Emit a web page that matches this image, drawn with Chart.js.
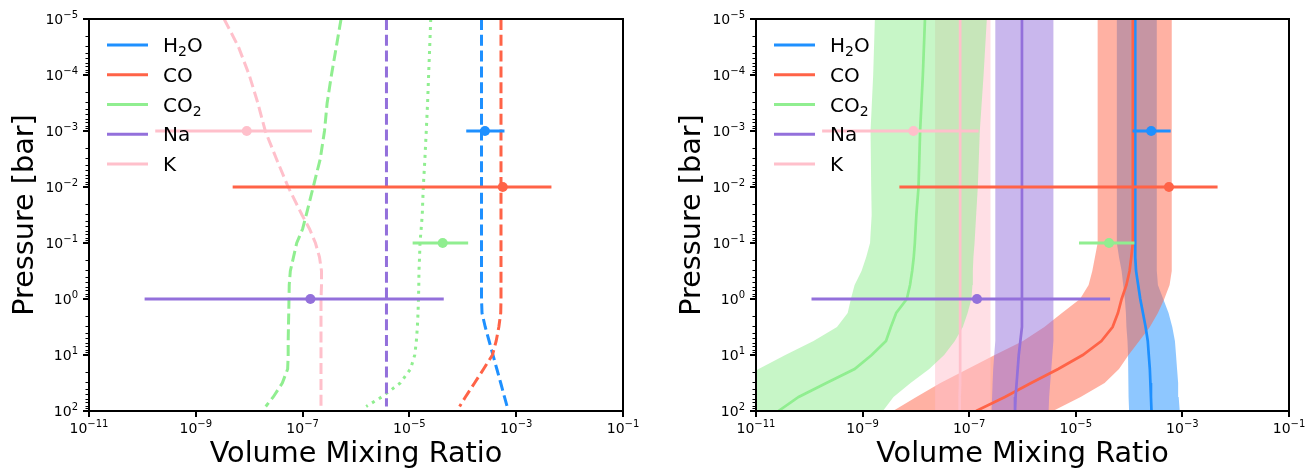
<!DOCTYPE html>
<html>
<head>
<meta charset="utf-8">
<title>Volume mixing ratio profiles</title>
<script src="https://cdn.jsdelivr.net/npm/chart.js@4.4.0/dist/chart.umd.min.js"></script>
<style>
  html, body { margin: 0; padding: 0; background: #fff; }
  #wrap { position: relative; width: 1306px; height: 470px; overflow: hidden; }
  canvas { position: absolute; top: 0; }
  #model { left: 0; }
  #retrieval { left: 653px; }
</style>
</head>
<body>
<div id="wrap">
  <canvas id="model" width="653" height="470"></canvas>
  <canvas id="retrieval" width="653" height="470"></canvas>
</div>
<script>
// ---- species ----
const SPECIES = ['H\u2082O', 'CO', 'CO\u2082', 'Na', 'K'];
const COLORS  = ['#1E90FF', '#FF6347', '#90EE90', '#9370DB', '#FFC0CB'];

// ---- axis ticks ----
const X_TICKS = [1e-11, 1e-9, 1e-7, 1e-5, 1e-3, 1e-1];
const Y_TICKS = [1e-5, 1e-4, 1e-3, 1e-2, 1e-1, 1, 10, 100];

// ---- forward-model profiles (left panel), pressure in bar ----
const P_MODEL = [1e-5, 3.16e-5, 1e-4, 3.16e-4, 1e-3, 3.16e-3, 1e-2, 3.16e-2, 5.62e-2, 0.1, 0.178,
                 0.316, 0.562, 1, 1.78, 3.16, 5.62, 10, 17.8, 31.6, 56.2, 83];
const H2O_MODEL = [2.24e-4, 2.24e-4, 2.24e-4, 2.24e-4, 2.24e-4, 2.24e-4, 2.24e-4, 2.24e-4, 2.24e-4,
                   2.24e-4, 2.24e-4, 2.24e-4, 2.24e-4, 2.24e-4,
                   2.29e-4, 2.63e-4, 3.11e-4, 3.67e-4, 4.34e-4, 5.13e-4, 6.03e-4, 6.76e-4];
const CO_MODEL  = [5.19e-4, 5.19e-4, 5.19e-4, 5.19e-4, 5.19e-4, 5.19e-4, 5.19e-4, 5.19e-4, 5.19e-4,
                   5.19e-4, 5.19e-4, 5.19e-4, 5.19e-4, 5.19e-4,
                   5.13e-4, 4.73e-4, 4.22e-4, 3.59e-4, 2.45e-4, 1.66e-4, 1.12e-4, 8.71e-5];
const CO2_MODEL = [5.25e-7, 4.27e-7, 3.47e-7, 2.88e-7, 2.57e-7, 2.14e-7, 1.58e-7, 1.17e-7, 1.00e-7,
                   7.76e-8, 6.76e-8, 5.89e-8, 5.62e-8, 5.56e-8,
                   5.50e-8, 5.43e-8, 5.37e-8, 5.37e-8, 5.25e-8, 4.17e-8, 2.82e-8, 2.04e-8];
const CO2_ALT_MODEL = [2.51e-5, 2.40e-5, 2.29e-5, 2.19e-5, 2.07e-5, 1.95e-5, 1.82e-5, 1.74e-5, 1.66e-5,
                       1.58e-5, 1.55e-5, 1.51e-5, 1.50e-5, 1.48e-5,
                       1.45e-5, 1.41e-5, 1.35e-5, 1.26e-5, 1.05e-5, 6.76e-6, 3.02e-6, 1.55e-6];
const NA_MODEL  = [3.72e-6, 3.72e-6, 3.72e-6, 3.72e-6, 3.72e-6, 3.72e-6, 3.72e-6, 3.72e-6, 3.72e-6,
                   3.72e-6, 3.72e-6, 3.72e-6, 3.72e-6, 3.72e-6,
                   3.72e-6, 3.72e-6, 3.72e-6, 3.72e-6, 3.72e-6, 3.72e-6, 3.72e-6, 3.72e-6];
const K_MODEL   = [3.39e-9, 6.31e-9, 1.00e-8, 1.45e-8, 2.00e-8, 3.24e-8, 5.37e-8, 9.77e-8, 1.35e-7,
                   1.74e-7, 2.07e-7, 2.26e-7, 2.26e-7, 2.21e-7,
                   2.21e-7, 2.21e-7, 2.21e-7, 2.21e-7, 2.21e-7, 2.21e-7, 2.21e-7, 2.21e-7];

// ---- retrieved profiles (right panel): median and credible band ----
const P_RETR = [1e-5, 1e-4, 1e-3, 1e-2, 0.0316, 0.1, 0.178, 0.316, 0.562,
                1, 1.78, 3.16, 5.62, 10, 17.8, 31.6, 56.2, 100];

const H2O_MED = [1.30e-4, 1.30e-4, 1.30e-4, 1.30e-4, 1.30e-4, 1.30e-4, 1.32e-4, 1.35e-4, 1.48e-4,
                 1.62e-4, 1.82e-4, 2.04e-4, 2.24e-4, 2.34e-4, 2.45e-4, 2.51e-4, 2.57e-4, 2.63e-4];
const H2O_LO  = [5.89e-5, 5.89e-5, 5.89e-5, 5.89e-5, 5.89e-5, 5.89e-5, 6.46e-5, 7.24e-5, 7.76e-5,
                 8.32e-5, 8.71e-5, 8.91e-5, 9.33e-5, 9.55e-5, 9.66e-5, 9.77e-5, 9.89e-5, 1.00e-4];
const H2O_HI  = [3.31e-4, 3.31e-4, 3.31e-4, 3.31e-4, 3.31e-4, 3.31e-4, 3.31e-4, 3.31e-4, 3.47e-4,
                 4.37e-4, 5.50e-4, 6.46e-4, 7.24e-4, 7.59e-4, 7.94e-4, 8.32e-4, 8.51e-4, 8.91e-4];

const CO_MED = [1.175e-4, 1.175e-4, 1.175e-4, 1.175e-4, 1.175e-4, 1.175e-4, 1.10e-4, 1.02e-4, 8.91e-5,
                7.24e-5, 6.17e-5, 4.90e-5, 3.02e-5, 1.35e-5, 4.68e-6, 1.45e-6, 4.68e-7, 1.35e-7];
const CO_LO  = [2.57e-5, 2.57e-5, 2.57e-5, 2.57e-5, 2.57e-5, 2.57e-5, 2.29e-5, 2.04e-5, 1.74e-5,
                1.20e-5, 5.50e-6, 2.57e-6, 1.02e-6, 3.02e-7, 9.33e-8, 2.88e-8, 1.02e-8, 3.72e-9];
const CO_HI  = [6.31e-4, 6.31e-4, 6.31e-4, 6.31e-4, 6.31e-4, 6.31e-4, 6.31e-4, 6.31e-4, 5.75e-4,
                4.57e-4, 3.47e-4, 2.45e-4, 1.55e-4, 9.77e-5, 6.46e-5, 3.47e-5, 1.23e-5, 3.72e-6];

const CO2_MED = [1.48e-8, 1.35e-8, 1.20e-8, 1.12e-8, 1.02e-8, 9.55e-9, 9.12e-9, 8.51e-9, 7.76e-9,
                 6.76e-9, 4.27e-9, 3.39e-9, 2.75e-9, 1.48e-9, 7.08e-10, 2.09e-10, 6.31e-11, 2.63e-11];
const CO2_LO  = [1.70e-9, 1.58e-9, 1.41e-9, 1.45e-9, 1.48e-9, 1.38e-9, 1.17e-9, 9.55e-10, 7.08e-10,
                 6.03e-10, 5.25e-10, 3.31e-10, 1.20e-10, 3.55e-11, 1.12e-11, 3.55e-12, 1.26e-12, 5.01e-13];
const CO2_HI  = [2.14e-7, 1.86e-7, 1.58e-7, 1.45e-7, 1.35e-7, 1.26e-7, 1.20e-7, 1.17e-7, 1.15e-7,
                 1.10e-7, 9.33e-8, 7.59e-8, 5.37e-8, 3.39e-8, 1.78e-8, 7.94e-9, 3.80e-9, 2.40e-9];

const NA_MED = [9.77e-7, 9.77e-7, 9.77e-7, 9.77e-7, 9.77e-7, 9.77e-7, 9.77e-7, 9.77e-7, 9.77e-7,
                9.77e-7, 9.77e-7, 9.77e-7, 9.12e-7, 8.51e-7, 8.13e-7, 7.76e-7, 7.41e-7, 7.24e-7];
const NA_LO  = [3.09e-7, 3.09e-7, 3.09e-7, 3.09e-7, 3.09e-7, 3.09e-7, 3.09e-7, 3.09e-7, 3.09e-7,
                3.09e-7, 3.09e-7, 3.09e-7, 3.09e-7, 2.95e-7, 2.82e-7, 2.75e-7, 2.69e-7, 2.63e-7];
const NA_HI  = [3.80e-6, 3.80e-6, 3.80e-6, 3.80e-6, 3.80e-6, 3.80e-6, 3.80e-6, 3.80e-6, 3.80e-6,
                3.80e-6, 3.80e-6, 3.80e-6, 3.80e-6, 3.63e-6, 3.47e-6, 3.31e-6, 3.16e-6, 3.09e-6];

const K_MED = [6.76e-8, 6.76e-8, 6.76e-8, 6.76e-8, 6.76e-8, 6.76e-8, 6.76e-8, 6.76e-8, 6.76e-8,
               6.76e-8, 6.76e-8, 6.76e-8, 6.76e-8, 6.76e-8, 6.76e-8, 6.76e-8, 6.61e-8, 6.61e-8];
const K_LO  = [2.29e-8, 2.29e-8, 2.29e-8, 2.29e-8, 2.29e-8, 2.29e-8, 2.29e-8, 2.29e-8, 2.29e-8,
               2.29e-8, 2.29e-8, 2.29e-8, 2.29e-8, 2.29e-8, 2.29e-8, 2.29e-8, 2.29e-8, 2.29e-8];
const K_HI  = [2.51e-7, 2.51e-7, 2.51e-7, 2.51e-7, 2.51e-7, 2.51e-7, 2.51e-7, 2.51e-7, 2.51e-7,
               2.51e-7, 2.51e-7, 2.51e-7, 2.51e-7, 2.51e-7, 2.51e-7, 2.51e-7, 2.51e-7, 2.51e-7];

// ---- observed abundances with ranges (both panels), species order as SPECIES ----
const OBS_P   = [1e-3, 1e-2, 1e-1, 1, 1e-3];
const OBS_VAL = [2.6e-4, 5.6e-4, 4.2e-5, 1.4e-7, 9.0e-9];
const OBS_LO  = [1.16e-4, 4.9e-9, 1.15e-5, 1.1e-10, 1.74e-10];
const OBS_HI  = [6.03e-4, 4.57e-3, 1.26e-4, 4.4e-5, 1.5e-7];

// ---------------------------------------------------------------------------
const FAMILY = "'DejaVu Sans', 'Liberation Sans', sans-serif";
const DASHED = [11, 4.8];
const DOTTED = [3, 5];

function rgba(hex, a) {
  const n = parseInt(hex.slice(1), 16);
  return `rgba(${n >> 16}, ${(n >> 8) & 255}, ${n & 255}, ${a})`;
}
function profile(pressures, values) {
  return pressures.map((p, i) => ({ x: values[i], y: p }));
}

// observed points with horizontal range bars
function observationSets() {
  const sets = [];
  OBS_P.forEach((p, i) => {
    sets.push({
      label: SPECIES[i] + ' range',
      data: [{ x: OBS_LO[i], y: p }, { x: OBS_HI[i], y: p }],
      borderColor: COLORS[i], borderWidth: 3, pointRadius: 0, fill: false
    });
    sets.push({
      label: SPECIES[i] + ' observed',
      data: [{ x: OBS_VAL[i], y: p }],
      showLine: false, pointRadius: 5, pointHoverRadius: 5,
      pointBackgroundColor: COLORS[i], pointBorderColor: COLORS[i], pointBorderWidth: 0
    });
  });
  return sets;
}

// "10" with a raised exponent, like a log-axis tick label
function powerLabel(ctx, v, x, y, align) {
  const e = Math.round(Math.log10(v));
  const base = '10';
  const exp = (e < 0 ? '\u2212' : '') + Math.abs(e);
  ctx.font = `14px ${FAMILY}`;
  const wb = ctx.measureText(base).width;
  ctx.font = `10px ${FAMILY}`;
  const we = ctx.measureText(exp).width;
  const x0 = align === 'right' ? x - wb - we : x - (wb + we) / 2;
  ctx.textAlign = 'left';
  ctx.textBaseline = 'alphabetic';
  ctx.font = `14px ${FAMILY}`;
  ctx.fillText(base, x0, y);
  ctx.font = `10px ${FAMILY}`;
  ctx.fillText(exp, x0 + wb, y - 6);
}

// frame, outward ticks (with log minor ticks on pressure) and tick labels
const axesPlugin = {
  id: 'logAxes',
  afterDraw(chart) {
    const { ctx, chartArea: a, scales: { x, y } } = chart;
    ctx.save();
    ctx.strokeStyle = '#000';
    ctx.fillStyle = '#000';
    ctx.lineWidth = 1.2;
    ctx.beginPath();
    for (let d = -5; d < 2; d++) {
      for (let m = 2; m <= 9; m++) {
        const py = Math.round(y.getPixelForValue(m * Math.pow(10, d))) + 0.5;
        ctx.moveTo(a.left, py);
        ctx.lineTo(a.left - 3.5, py);
      }
    }
    ctx.stroke();
    ctx.lineWidth = 2;
    ctx.beginPath();
    X_TICKS.forEach(v => {
      const px = Math.round(x.getPixelForValue(v));
      ctx.moveTo(px, a.bottom); ctx.lineTo(px, a.bottom + 6);
    });
    Y_TICKS.forEach(v => {
      const py = Math.round(y.getPixelForValue(v));
      ctx.moveTo(a.left, py); ctx.lineTo(a.left - 6, py);
    });
    ctx.stroke();
    ctx.strokeRect(a.left, a.top, a.right - a.left, a.bottom - a.top);
    X_TICKS.forEach(v => powerLabel(ctx, v, x.getPixelForValue(v), a.bottom + 22, 'center'));
    Y_TICKS.forEach(v => powerLabel(ctx, v, a.left - 11, y.getPixelForValue(v) + 5, 'right'));
    ctx.restore();
  }
};

// label text with subscript digits set smaller and lowered
function drawFormula(ctx, text, x, y, size) {
  let cx = x;
  for (const ch of text) {
    const code = ch.codePointAt(0);
    if (code >= 0x2080 && code <= 0x2089) {
      ctx.font = `${Math.round(size * 0.7)}px ${FAMILY}`;
      const digit = String(code - 0x2080);
      ctx.fillText(digit, cx, y + 4);
      cx += ctx.measureText(digit).width;
    } else {
      ctx.font = `${size}px ${FAMILY}`;
      ctx.fillText(ch, cx, y);
      cx += ctx.measureText(ch).width;
    }
  }
}

// species key in the upper-left corner of the plotting area
const keyPlugin = {
  id: 'speciesKey',
  afterDraw(chart) {
    const { ctx, chartArea: a } = chart;
    ctx.save();
    ctx.textAlign = 'left';
    ctx.textBaseline = 'alphabetic';
    SPECIES.forEach((name, i) => {
      const yy = a.top + 26 + i * 29.75;
      ctx.strokeStyle = COLORS[i];
      ctx.lineWidth = 3;
      ctx.beginPath();
      ctx.moveTo(a.left + 18, yy);
      ctx.lineTo(a.left + 59, yy);
      ctx.stroke();
      ctx.fillStyle = '#000';
      drawFormula(ctx, name, a.left + 74, yy + 7, 20);
    });
    ctx.restore();
  }
};

function buildChart(id, datasets, yAxisWidth, rightPad, yTitlePad) {
  // datasets listed bottom-to-top
  datasets.forEach((d, i) => { d.order = datasets.length - i; });
  const titleFont = { family: FAMILY, size: 28.7, lineHeight: 1.05 };
  return new Chart(document.getElementById(id), {
    type: 'line',
    data: { datasets },
    options: {
      responsive: false,
      animation: false,
      devicePixelRatio: 1,
      events: [],
      layout: { padding: { top: 19, right: rightPad, left: 0, bottom: 0 } },
      plugins: { legend: { display: false }, tooltip: { enabled: false } },
      elements: { line: { tension: 0 }, point: { radius: 0 } },
      scales: {
        x: {
          type: 'logarithmic', min: 1e-11, max: 1e-1,
          grid: { display: false }, border: { display: false }, ticks: { display: false },
          title: { display: true, text: 'Volume Mixing Ratio', color: '#000', font: titleFont,
                   padding: { top: 0, bottom: 0 } },
          afterFit(s) { s.height = 59; s.paddingLeft = 0; s.paddingRight = 0; }
        },
        y: {
          type: 'logarithmic', min: 1e-5, max: 100, reverse: true,
          grid: { display: false }, border: { display: false }, ticks: { display: false },
          title: { display: true, text: 'Pressure [bar]', color: '#000', font: titleFont,
                   padding: { top: yTitlePad, bottom: 0 } },
          afterFit(s) { s.width = yAxisWidth; s.paddingTop = 0; s.paddingBottom = 0; }
        }
      }
    },
    plugins: [axesPlugin, keyPlugin]
  });
}

// ---- left panel: model profiles ----
const modelSets = [
  [H2O_MODEL, 0, DASHED],
  [CO_MODEL, 1, DASHED],
  [CO2_MODEL, 2, DASHED],
  [CO2_ALT_MODEL, 2, DOTTED],
  [NA_MODEL, 3, DASHED],
  [K_MODEL, 4, DASHED]
].map(([vals, s, dash]) => ({
  label: SPECIES[s],
  data: profile(P_MODEL, vals),
  indexAxis: 'y',
  borderColor: COLORS[s], borderWidth: 3, borderDash: dash,
  pointRadius: 0, fill: false
}));
buildChart('model', modelSets.concat(observationSets()), 89, 30, 10);

// ---- right panel: retrieved medians with bands ----
const RETR_MED = [H2O_MED, CO_MED, CO2_MED, NA_MED, K_MED];
const RETR_LO  = [H2O_LO, CO_LO, CO2_LO, NA_LO, K_LO];
const RETR_HI  = [H2O_HI, CO_HI, CO2_HI, NA_HI, K_HI];
const BAND_DRAW_ORDER = [0, 1, 4, 2, 3];

const retrSets = [];
BAND_DRAW_ORDER.forEach(s => {
  retrSets.push({
    label: SPECIES[s] + ' lower',
    data: profile(P_RETR, RETR_LO[s]),
    indexAxis: 'y', borderWidth: 0, borderColor: 'rgba(0,0,0,0)',
    backgroundColor: rgba(COLORS[s], 0.5), fill: '+1', pointRadius: 0
  });
  retrSets.push({
    label: SPECIES[s] + ' upper',
    data: profile(P_RETR, RETR_HI[s]),
    indexAxis: 'y', borderWidth: 0, borderColor: 'rgba(0,0,0,0)',
    fill: false, pointRadius: 0
  });
});
SPECIES.forEach((name, s) => {
  retrSets.push({
    label: name,
    data: profile(P_RETR, RETR_MED[s]),
    indexAxis: 'y', borderColor: COLORS[s], borderWidth: 2.7,
    pointRadius: 0, fill: false
  });
});
buildChart('retrieval', retrSets.concat(observationSets()), 103, 17, 24);
</script>
</body>
</html>
